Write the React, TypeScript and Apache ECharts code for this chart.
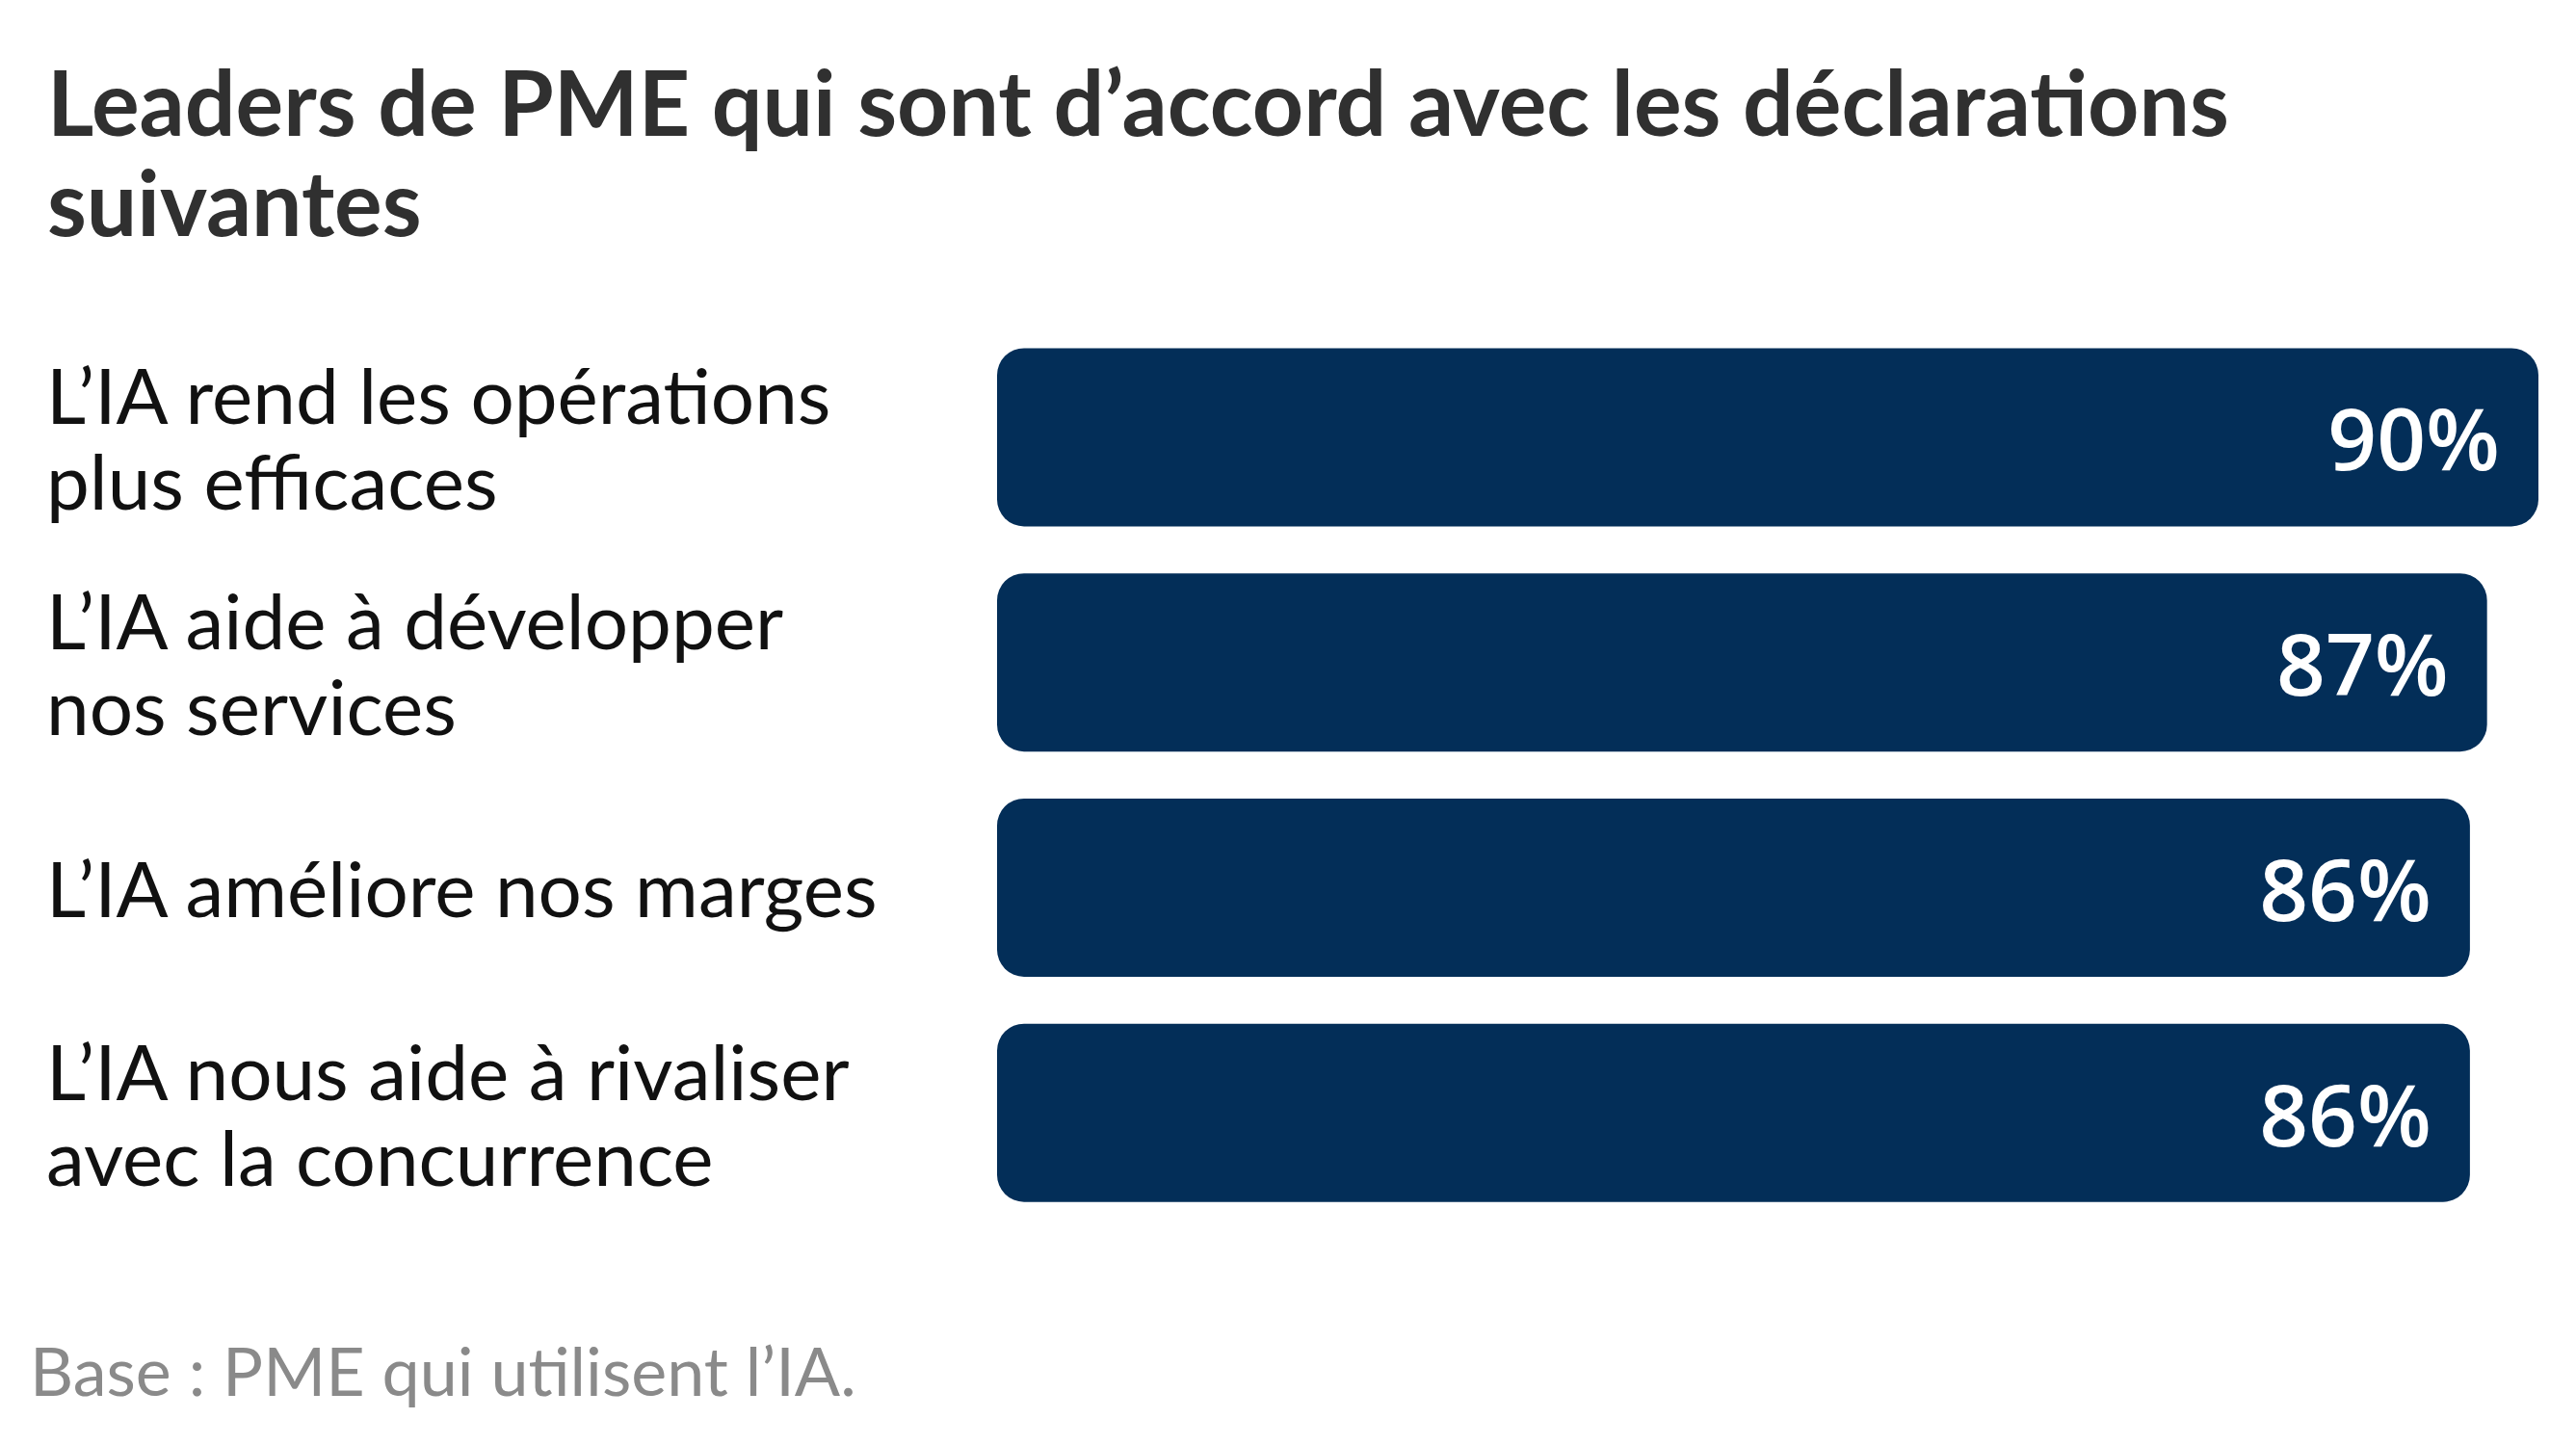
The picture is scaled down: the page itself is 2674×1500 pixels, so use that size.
import React, { useEffect, useRef } from "react";
import * as echarts from "echarts";

const titleText = "Leaders de PME qui sont d’accord avec les déclarations\nsuivantes";
const footnote = "Base : PME qui utilisent l’IA.";
const categories = [
  "L’IA rend les opérations\nplus efficaces",
  "L’IA aide à développer\nnos services",
  "L’IA améliore nos marges",
  "L’IA nous aide à rivaliser\navec la concurrence",
];
const values = [90, 87, 86, 86];

const LABEL_FONT = "Lato, 'Open Sans', sans-serif";
const VALUE_FONT = "'Open Sans', sans-serif";

export default function App() {
  const ref = useRef<HTMLDivElement>(null);
  useEffect(() => {
    document.body.style.margin = "0";
    document.body.style.background = "#ffffff";
    const chart = echarts.init(ref.current!, undefined, { renderer: "svg" });
    chart.setOption({
      animation: false,
      backgroundColor: "#ffffff",
      title: [
        {
          text: titleText,
          left: 44,
          top: 48,
          textStyle: {
            fontFamily: LABEL_FONT,
            fontSize: 93,
            fontWeight: "bold",
            lineHeight: 104,
            color: "#303030",
          },
        },
        {
          text: footnote,
          left: 26,
          top: 1377,
          textStyle: {
            fontFamily: LABEL_FONT,
            fontSize: 70,
            fontWeight: "normal",
            lineHeight: 80,
            color: "#8a8a8a",
          },
        },
      ],
      grid: { left: 1035, right: 39, top: 337, bottom: 228, containLabel: false },
      xAxis: {
        type: "value",
        min: 0,
        max: 90,
        show: false,
      },
      yAxis: {
        type: "category",
        data: categories,
        inverse: true,
        axisLine: { show: false },
        axisTick: { show: false },
        splitLine: { show: false },
        axisLabel: {
          align: "left",
          margin: 1035 - 48,
          fontFamily: LABEL_FONT,
          fontSize: 80,
          lineHeight: 89,
          color: "#111111",
        },
      },
      series: [
        {
          type: "bar",
          data: values,
          barWidth: 185,
          itemStyle: { color: "#032E58", borderRadius: 28 },
          label: {
            show: true,
            position: "insideRight",
            distance: 40,
            formatter: "{c}%",
            fontFamily: VALUE_FONT,
            fontSize: 89,
            fontWeight: 600,
            color: "#ffffff",
          },
        },
      ],
    });
    return () => chart.dispose();
  }, []);
  return <div ref={ref} style={{ width: 2674, height: 1500 }} />;
}
